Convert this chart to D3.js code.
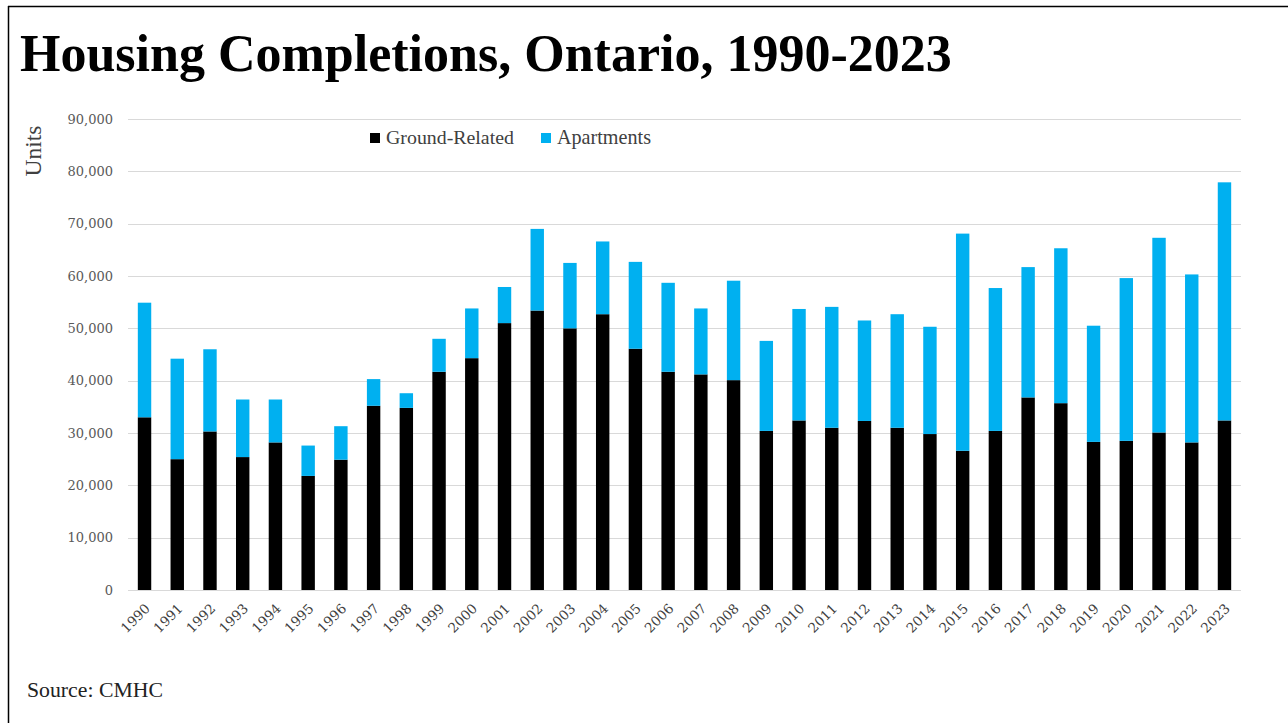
<!DOCTYPE html>
<html>
<head>
<meta charset="utf-8">
<script src="https://cdn.jsdelivr.net/npm/d3@7"></script>
<style>
  html, body { margin: 0; padding: 0; background: #ffffff; }
  svg { display: block; }
</style>
</head>
<body>
<svg id="chart" width="1288" height="723"></svg>
<script>
// Ontario housing completions by year, split by structure type
const years = ["1990","1991","1992","1993","1994","1995","1996","1997","1998","1999",
               "2000","2001","2002","2003","2004","2005","2006","2007","2008","2009",
               "2010","2011","2012","2013","2014","2015","2016","2017","2018","2019",
               "2020","2021","2022","2023"];
const totals = [54900,44200,46000,36400,36400,27600,31300,40300,37600,48000,
                53800,57900,69000,62500,66600,62700,58700,53800,59100,47600,
                53700,54100,51500,52700,50300,68100,57700,61700,65300,50500,
                59600,67300,60300,77900];
const groundRelated = [33000,25000,30300,25400,28200,21800,24900,35200,34800,41700,
                       44300,51000,53400,50000,52700,46100,41700,41200,40100,30400,
                       32400,31000,32300,31000,29800,26600,30400,36800,35700,28300,
                       28500,30100,28200,32400];
const apartments = totals.map((t, i) => t - groundRelated[i]);
const seriesNames = ["Ground-Related", "Apartments"];
const seriesColors = ["#000000", "#00b0f0"];
const yTicks = [0,10000,20000,30000,40000,50000,60000,70000,80000,90000];

const svg = d3.select("#chart");
const serif = "'Liberation Serif', 'DejaVu Serif', serif";
const wideSerif = "'DejaVu Serif', 'Liberation Serif', serif";

// shrink or grow a text's font until it spans the given width
function fitWidth(sel, width) {
  const node = sel.node();
  const size = parseFloat(sel.attr("font-size"));
  const w = node.getComputedTextLength();
  sel.attr("font-size", (size * width / w).toFixed(2));
}

// frame lines on top and left
svg.append("line").attr("x1", 8).attr("x2", 1288).attr("y1", 6.5).attr("y2", 6.5)
  .attr("stroke", "#000").attr("stroke-width", 1.5);
svg.append("line").attr("x1", 8.5).attr("x2", 8.5).attr("y1", 6).attr("y2", 723)
  .attr("stroke", "#000").attr("stroke-width", 1.5);

// title
const title = svg.append("text")
  .attr("x", 20).attr("y", 71)
  .attr("font-family", serif).attr("font-weight", "bold")
  .attr("font-size", 44).attr("fill", "#000")
  .text("Housing Completions, Ontario, 1990-2023");
fitWidth(title, 932);

const x = d3.scaleBand().domain(years).range([128, 1241])
  .paddingInner(0.59).paddingOuter(0.3);
const y = d3.scaleLinear().domain([0, 90000]).range([590, 119]);

// horizontal gridlines
svg.append("g").selectAll("line").data(yTicks).join("line")
  .attr("x1", 128).attr("x2", 1241)
  .attr("y1", d => Math.round(y(d)) + 0.5).attr("y2", d => Math.round(y(d)) + 0.5)
  .attr("stroke", "#d9d9d9").attr("stroke-width", 1);

// y axis labels
const yAxis = d3.axisLeft(y).tickValues(yTicks).tickFormat(d3.format(",")).tickSize(0).tickPadding(0);
const yg = svg.append("g").attr("transform", "translate(113,0)").call(yAxis);
yg.select(".domain").remove();
yg.selectAll("text").attr("font-family", wideSerif).attr("font-size", 13).attr("fill", "#595959");

// stacked bars
const stacked = d3.stack().keys([0, 1])(years.map((yr, i) => [groundRelated[i], apartments[i]]));
svg.append("g").selectAll("g").data(stacked).join("g")
  .attr("fill", (d, i) => seriesColors[i])
  .selectAll("rect").data(d => d).join("rect")
  .attr("x", (d, i) => x(years[i]))
  .attr("width", x.bandwidth())
  .attr("y", d => y(d[1]))
  .attr("height", d => y(d[0]) - y(d[1]));

// x axis labels, rotated
const xAxis = d3.axisBottom(x).tickSize(0).tickPadding(0);
const xg = svg.append("g").attr("transform", "translate(0,590)").call(xAxis);
xg.select(".domain").remove();
xg.selectAll("text")
  .attr("font-family", wideSerif).attr("font-size", 13.5).attr("fill", "#404040")
  .attr("text-anchor", "end").attr("dy", "0.35em")
  .attr("transform", "translate(3,16) rotate(-45)");

// y axis title
const yTitle = svg.append("text")
  .attr("transform", "translate(41,151) rotate(-90)")
  .attr("text-anchor", "middle")
  .attr("font-family", serif).attr("font-size", 20).attr("fill", "#404040")
  .text("Units");
fitWidth(yTitle, 51);

// legend
const legendPos = [370, 541];
const legendWidths = [128, 94];
const legend = svg.append("g").selectAll("g").data(seriesNames).join("g")
  .attr("transform", (d, i) => `translate(${legendPos[i]},0)`);
legend.append("rect").attr("x", 0).attr("y", 133).attr("width", 10).attr("height", 10)
  .attr("fill", (d, i) => seriesColors[i]);
legend.append("text").attr("x", 16).attr("y", 144)
  .attr("font-family", serif).attr("font-size", 18).attr("fill", "#404040")
  .text(d => d)
  .each(function (d, i) { fitWidth(d3.select(this), legendWidths[i]); });

// source note
const source = svg.append("text")
  .attr("x", 27).attr("y", 697)
  .attr("font-family", serif).attr("font-size", 18).attr("fill", "#222")
  .text("Source: CMHC");
fitWidth(source, 136);
</script>
</body>
</html>
